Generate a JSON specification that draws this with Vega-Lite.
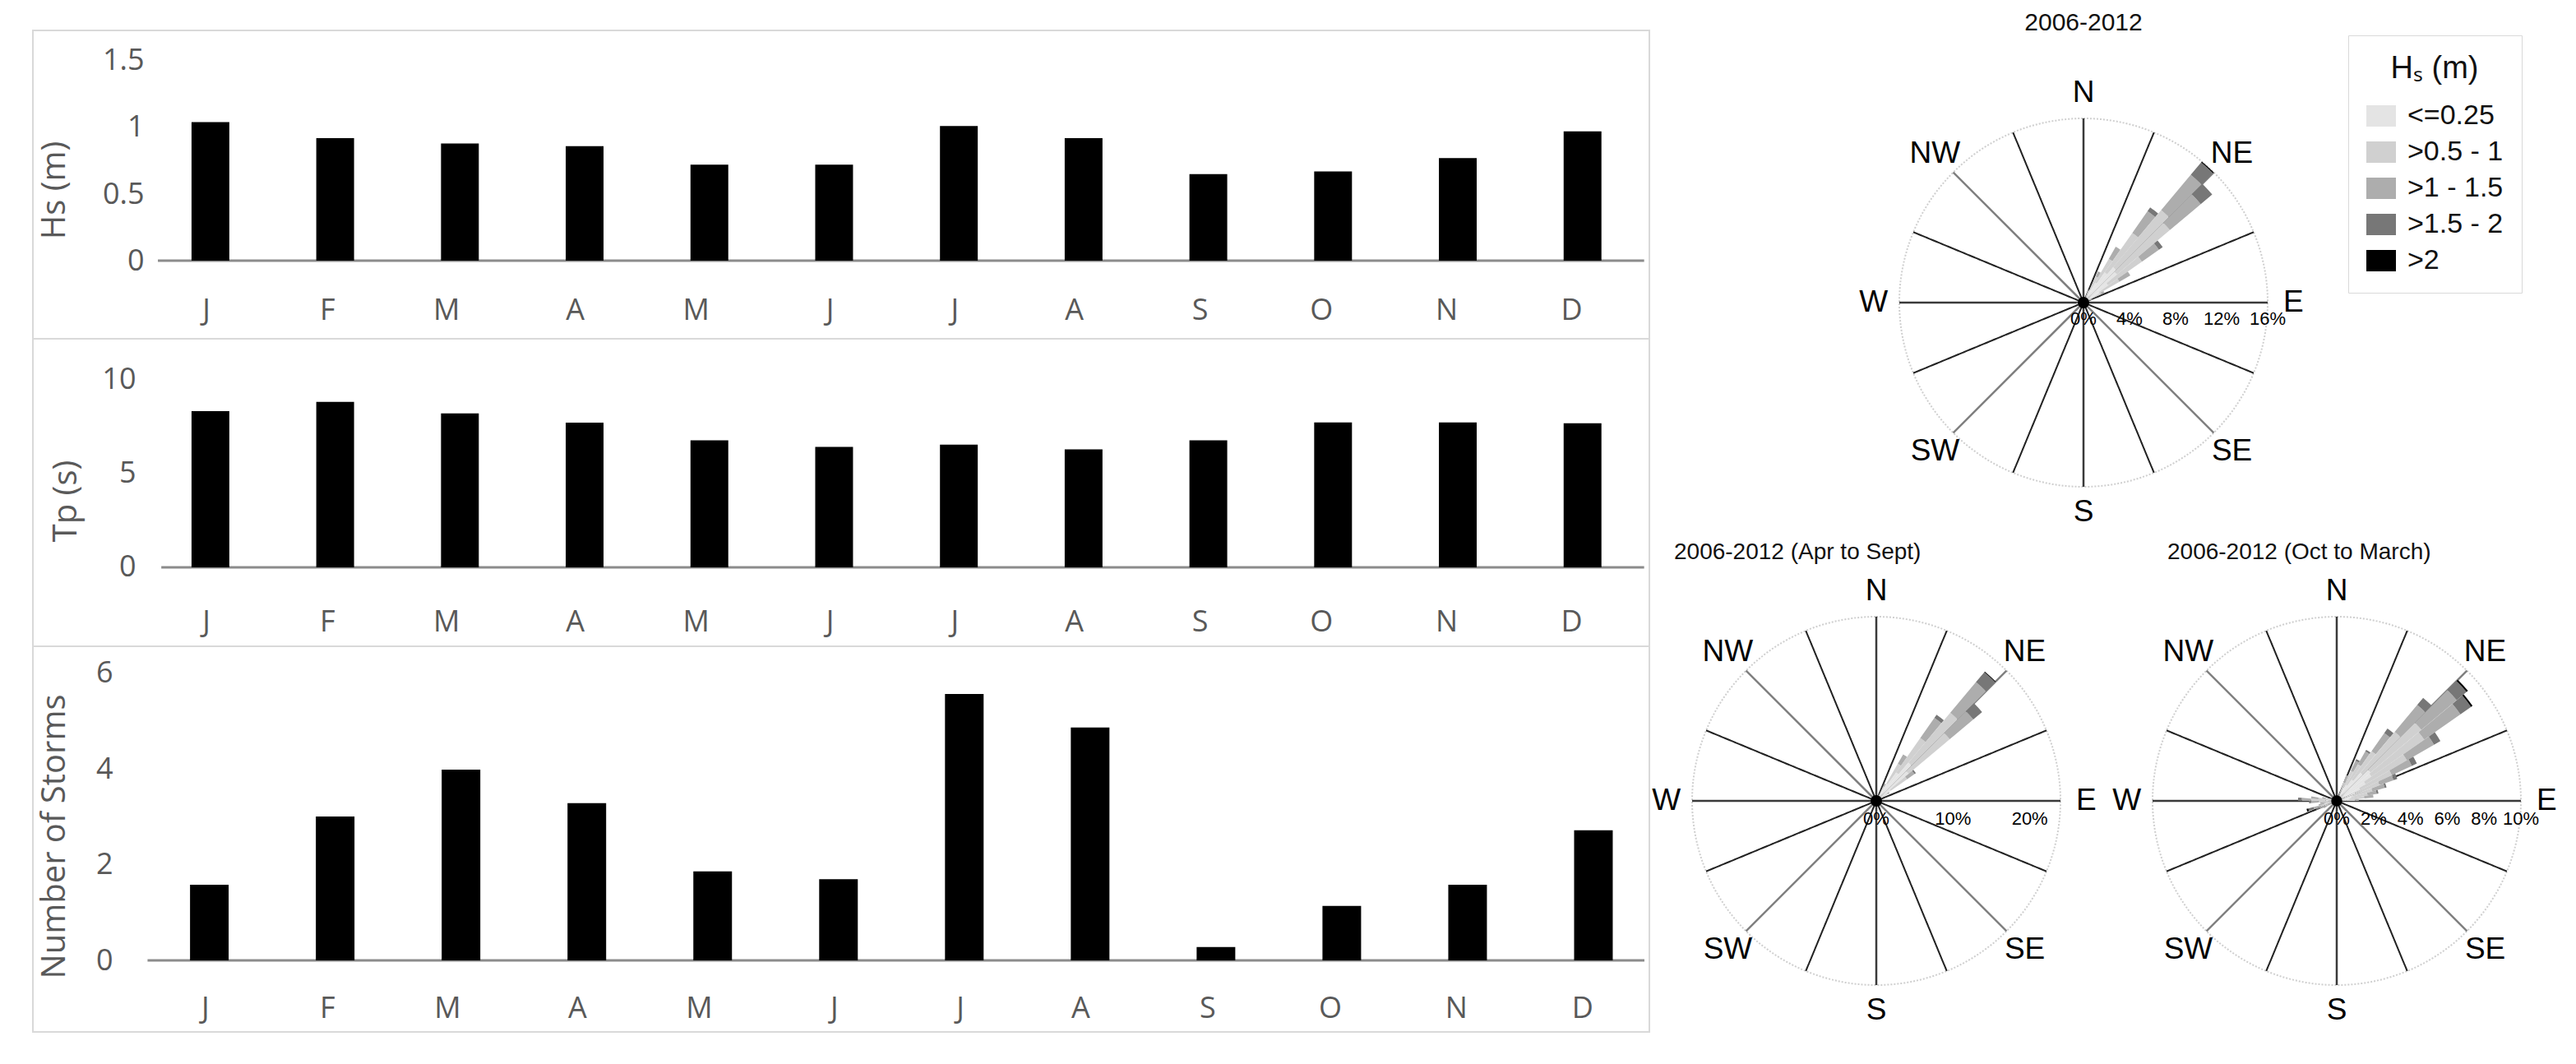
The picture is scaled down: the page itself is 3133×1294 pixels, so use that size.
{
  "$schema": "https://vega.github.io/schema/vega-lite/v6.json",
  "background": "white",
  "padding": {"left": 39, "top": 13, "right": 5, "bottom": 5},
  "bounds": "flush",
  "spacing": 1980,
  "config": {"view": {"stroke": null}, "axis": {"grid": false}, "font": "Liberation Sans"},
  "resolve": {"scale": {"color": "independent", "theta": "independent", "radius": "independent"}, "legend": {"color": "independent"}},
  "datasets": {
    "bars": [
      {"m": "Jan", "hs": 1.04, "tp": 8.33, "ns": 1.58},
      {"m": "Feb", "hs": 0.92, "tp": 8.82, "ns": 3.01},
      {"m": "Mar", "hs": 0.88, "tp": 8.21, "ns": 3.99},
      {"m": "Apr", "hs": 0.86, "tp": 7.72, "ns": 3.29},
      {"m": "May", "hs": 0.72, "tp": 6.77, "ns": 1.86},
      {"m": "Jun", "hs": 0.72, "tp": 6.42, "ns": 1.70},
      {"m": "Jul", "hs": 1.01, "tp": 6.54, "ns": 5.57},
      {"m": "Aug", "hs": 0.92, "tp": 6.29, "ns": 4.87},
      {"m": "Sep", "hs": 0.65, "tp": 6.77, "ns": 0.28},
      {"m": "Oct", "hs": 0.67, "tp": 7.73, "ns": 1.14},
      {"m": "Nov", "hs": 0.77, "tp": 7.73, "ns": 1.58},
      {"m": "Dec", "hs": 0.97, "tp": 7.68, "ns": 2.72}
    ],
    "one": [{}],
    "spk_c": [{"a": 0}, {"a": 90}, {"a": 180}, {"a": 270}],
    "spk_d": [{"a": 45}, {"a": 135}, {"a": 225}, {"a": 315}],
    "spk_i": [{"a": 22.5}, {"a": 67.5}, {"a": 112.5}, {"a": 157.5}, {"a": 202.5}, {"a": 247.5}, {"a": 292.5}, {"a": 337.5}],
    "dirs": [{"a": 0, "t": "N"}, {"a": 45, "t": "NE"}, {"a": 90, "t": "E"}, {"a": 135, "t": "SE"}, {"a": 180, "t": "S"}, {"a": 225, "t": "SW"}, {"a": 270, "t": "W"}, {"a": 315, "t": "NW"}],
    "pct1": [{"v": 0, "t": "0%"}, {"v": 4, "t": "4%"}, {"v": 8, "t": "8%"}, {"v": 12, "t": "12%"}, {"v": 16, "t": "16%"}],
    "pct2": [{"v": 0, "t": "0%"}, {"v": 10, "t": "10%"}, {"v": 20, "t": "20%"}],
    "pct3": [{"v": 0, "t": "0%"}, {"v": 2, "t": "2%"}, {"v": 4, "t": "4%"}, {"v": 6, "t": "6%"}, {"v": 8, "t": "8%"}, {"v": 10, "t": "10%"}],
    "r1": [
      {"d0": 20, "d1": 25, "c": "<=0.25", "p": 0.6}, {"d0": 20, "d1": 25, "c": ">0.5 - 1", "p": 0.5}, {"d0": 20, "d1": 25, "c": ">1 - 1.5", "p": 0.1},
      {"d0": 25, "d1": 30, "c": "<=0.25", "p": 1.2}, {"d0": 25, "d1": 30, "c": ">0.5 - 1", "p": 1.3}, {"d0": 25, "d1": 30, "c": ">1 - 1.5", "p": 0.5},
      {"d0": 30, "d1": 35, "c": "<=0.25", "p": 2.0}, {"d0": 30, "d1": 35, "c": ">0.5 - 1", "p": 2.4}, {"d0": 30, "d1": 35, "c": ">1 - 1.5", "p": 1.2},
      {"d0": 35, "d1": 40, "c": "<=0.25", "p": 3.2}, {"d0": 35, "d1": 40, "c": ">0.5 - 1", "p": 4.2}, {"d0": 35, "d1": 40, "c": ">1 - 1.5", "p": 2.3}, {"d0": 35, "d1": 40, "c": ">1.5 - 2", "p": 0.4},
      {"d0": 40, "d1": 45, "c": "<=0.25", "p": 4.0}, {"d0": 40, "d1": 45, "c": ">0.5 - 1", "p": 6.5}, {"d0": 40, "d1": 45, "c": ">1 - 1.5", "p": 4.0}, {"d0": 40, "d1": 45, "c": ">1.5 - 2", "p": 1.4}, {"d0": 40, "d1": 45, "c": ">2", "p": 0.1},
      {"d0": 45, "d1": 50, "c": "<=0.25", "p": 3.8}, {"d0": 45, "d1": 50, "c": ">0.5 - 1", "p": 6.0}, {"d0": 45, "d1": 50, "c": ">1 - 1.5", "p": 3.5}, {"d0": 45, "d1": 50, "c": ">1.5 - 2", "p": 1.3},
      {"d0": 50, "d1": 55, "c": "<=0.25", "p": 2.6}, {"d0": 50, "d1": 55, "c": ">0.5 - 1", "p": 3.6}, {"d0": 50, "d1": 55, "c": ">1 - 1.5", "p": 1.8}, {"d0": 50, "d1": 55, "c": ">1.5 - 2", "p": 0.4},
      {"d0": 55, "d1": 60, "c": "<=0.25", "p": 1.6}, {"d0": 55, "d1": 60, "c": ">0.5 - 1", "p": 2.0}, {"d0": 55, "d1": 60, "c": ">1 - 1.5", "p": 1.1},
      {"d0": 60, "d1": 65, "c": "<=0.25", "p": 0.8}, {"d0": 60, "d1": 65, "c": ">0.5 - 1", "p": 0.9}, {"d0": 60, "d1": 65, "c": ">1 - 1.5", "p": 0.3},
      {"d0": 65, "d1": 70, "c": "<=0.25", "p": 0.4}, {"d0": 65, "d1": 70, "c": ">0.5 - 1", "p": 0.4},
      {"d0": 250, "d1": 255, "c": "<=0.25", "p": 0.3}, {"d0": 250, "d1": 255, "c": ">0.5 - 1", "p": 0.2},
      {"d0": 265, "d1": 270, "c": "<=0.25", "p": 0.3}, {"d0": 265, "d1": 270, "c": ">0.5 - 1", "p": 0.3},
      {"d0": 270, "d1": 275, "c": "<=0.25", "p": 0.3}, {"d0": 270, "d1": 275, "c": ">0.5 - 1", "p": 0.2}
    ],
    "r2": [
      {"d0": 20, "d1": 25, "c": "<=0.25", "p": 0.4}, {"d0": 20, "d1": 25, "c": ">0.5 - 1", "p": 0.4},
      {"d0": 25, "d1": 30, "c": "<=0.25", "p": 1.0}, {"d0": 25, "d1": 30, "c": ">0.5 - 1", "p": 1.1}, {"d0": 25, "d1": 30, "c": ">1 - 1.5", "p": 0.4},
      {"d0": 30, "d1": 35, "c": "<=0.25", "p": 2.6}, {"d0": 30, "d1": 35, "c": ">0.5 - 1", "p": 3.0}, {"d0": 30, "d1": 35, "c": ">1 - 1.5", "p": 1.4},
      {"d0": 35, "d1": 40, "c": "<=0.25", "p": 4.5}, {"d0": 35, "d1": 40, "c": ">0.5 - 1", "p": 5.5}, {"d0": 35, "d1": 40, "c": ">1 - 1.5", "p": 3.2}, {"d0": 35, "d1": 40, "c": ">1.5 - 2", "p": 0.5},
      {"d0": 40, "d1": 45, "c": "<=0.25", "p": 6.5}, {"d0": 40, "d1": 45, "c": ">0.5 - 1", "p": 8.5}, {"d0": 40, "d1": 45, "c": ">1 - 1.5", "p": 5.2}, {"d0": 40, "d1": 45, "c": ">1.5 - 2", "p": 1.7}, {"d0": 40, "d1": 45, "c": ">2", "p": 0.1},
      {"d0": 45, "d1": 50, "c": "<=0.25", "p": 5.5}, {"d0": 45, "d1": 50, "c": ">0.5 - 1", "p": 7.0}, {"d0": 45, "d1": 50, "c": ">1 - 1.5", "p": 4.0}, {"d0": 45, "d1": 50, "c": ">1.5 - 2", "p": 1.5},
      {"d0": 50, "d1": 55, "c": "<=0.25", "p": 2.3}, {"d0": 50, "d1": 55, "c": ">0.5 - 1", "p": 2.6}, {"d0": 50, "d1": 55, "c": ">1 - 1.5", "p": 1.2}, {"d0": 50, "d1": 55, "c": ">1.5 - 2", "p": 0.2},
      {"d0": 55, "d1": 60, "c": "<=0.25", "p": 0.9}, {"d0": 55, "d1": 60, "c": ">0.5 - 1", "p": 0.8}, {"d0": 55, "d1": 60, "c": ">1 - 1.5", "p": 0.3},
      {"d0": 60, "d1": 65, "c": "<=0.25", "p": 0.4}, {"d0": 60, "d1": 65, "c": ">0.5 - 1", "p": 0.3}
    ],
    "r3": [
      {"d0": 20, "d1": 25, "c": "<=0.25", "p": 0.5}, {"d0": 20, "d1": 25, "c": ">0.5 - 1", "p": 0.6}, {"d0": 20, "d1": 25, "c": ">1 - 1.5", "p": 0.4},
      {"d0": 25, "d1": 30, "c": "<=0.25", "p": 0.8}, {"d0": 25, "d1": 30, "c": ">0.5 - 1", "p": 1.0}, {"d0": 25, "d1": 30, "c": ">1 - 1.5", "p": 0.6}, {"d0": 25, "d1": 30, "c": ">1.5 - 2", "p": 0.1},
      {"d0": 30, "d1": 35, "c": "<=0.25", "p": 1.0}, {"d0": 30, "d1": 35, "c": ">0.5 - 1", "p": 1.3}, {"d0": 30, "d1": 35, "c": ">1 - 1.5", "p": 0.8}, {"d0": 30, "d1": 35, "c": ">1.5 - 2", "p": 0.1},
      {"d0": 35, "d1": 40, "c": "<=0.25", "p": 1.4}, {"d0": 35, "d1": 40, "c": ">0.5 - 1", "p": 1.9}, {"d0": 35, "d1": 40, "c": ">1 - 1.5", "p": 1.2}, {"d0": 35, "d1": 40, "c": ">1.5 - 2", "p": 0.3},
      {"d0": 40, "d1": 45, "c": "<=0.25", "p": 2.0}, {"d0": 40, "d1": 45, "c": ">0.5 - 1", "p": 2.9}, {"d0": 40, "d1": 45, "c": ">1 - 1.5", "p": 1.9}, {"d0": 40, "d1": 45, "c": ">1.5 - 2", "p": 0.5},
      {"d0": 45, "d1": 50, "c": "<=0.25", "p": 2.4}, {"d0": 45, "d1": 50, "c": ">0.5 - 1", "p": 3.6}, {"d0": 45, "d1": 50, "c": ">1 - 1.5", "p": 2.5}, {"d0": 45, "d1": 50, "c": ">1.5 - 2", "p": 0.7}, {"d0": 45, "d1": 50, "c": ">2", "p": 0.1},
      {"d0": 50, "d1": 55, "c": "<=0.25", "p": 2.3}, {"d0": 50, "d1": 55, "c": ">0.5 - 1", "p": 3.5}, {"d0": 50, "d1": 55, "c": ">1 - 1.5", "p": 2.4}, {"d0": 50, "d1": 55, "c": ">1.5 - 2", "p": 0.7}, {"d0": 50, "d1": 55, "c": ">2", "p": 0.1},
      {"d0": 55, "d1": 60, "c": "<=0.25", "p": 1.8}, {"d0": 55, "d1": 60, "c": ">0.5 - 1", "p": 2.6}, {"d0": 55, "d1": 60, "c": ">1 - 1.5", "p": 1.7}, {"d0": 55, "d1": 60, "c": ">1.5 - 2", "p": 0.4},
      {"d0": 60, "d1": 65, "c": "<=0.25", "p": 1.4}, {"d0": 60, "d1": 65, "c": ">0.5 - 1", "p": 1.9}, {"d0": 60, "d1": 65, "c": ">1 - 1.5", "p": 1.2}, {"d0": 60, "d1": 65, "c": ">1.5 - 2", "p": 0.3},
      {"d0": 65, "d1": 70, "c": "<=0.25", "p": 1.1}, {"d0": 65, "d1": 70, "c": ">0.5 - 1", "p": 1.4}, {"d0": 65, "d1": 70, "c": ">1 - 1.5", "p": 0.8}, {"d0": 65, "d1": 70, "c": ">1.5 - 2", "p": 0.2},
      {"d0": 70, "d1": 75, "c": "<=0.25", "p": 0.9}, {"d0": 70, "d1": 75, "c": ">0.5 - 1", "p": 1.1}, {"d0": 70, "d1": 75, "c": ">1 - 1.5", "p": 0.7}, {"d0": 70, "d1": 75, "c": ">1.5 - 2", "p": 0.1},
      {"d0": 75, "d1": 80, "c": "<=0.25", "p": 0.8}, {"d0": 75, "d1": 80, "c": ">0.5 - 1", "p": 0.9}, {"d0": 75, "d1": 80, "c": ">1 - 1.5", "p": 0.5}, {"d0": 75, "d1": 80, "c": ">1.5 - 2", "p": 0.1},
      {"d0": 80, "d1": 85, "c": "<=0.25", "p": 0.7}, {"d0": 80, "d1": 85, "c": ">0.5 - 1", "p": 0.8}, {"d0": 80, "d1": 85, "c": ">1 - 1.5", "p": 0.5},
      {"d0": 85, "d1": 90, "c": "<=0.25", "p": 0.5}, {"d0": 85, "d1": 90, "c": ">0.5 - 1", "p": 0.5}, {"d0": 85, "d1": 90, "c": ">1 - 1.5", "p": 0.2},
      {"d0": 240, "d1": 245, "c": "<=0.25", "p": 0.3}, {"d0": 240, "d1": 245, "c": ">0.5 - 1", "p": 0.3}, {"d0": 240, "d1": 245, "c": ">1 - 1.5", "p": 0.2},
      {"d0": 245, "d1": 250, "c": "<=0.25", "p": 0.3}, {"d0": 245, "d1": 250, "c": ">0.5 - 1", "p": 0.4}, {"d0": 245, "d1": 250, "c": ">1 - 1.5", "p": 0.3}, {"d0": 245, "d1": 250, "c": ">1.5 - 2", "p": 0.2},
      {"d0": 250, "d1": 255, "c": "<=0.25", "p": 0.4}, {"d0": 250, "d1": 255, "c": ">0.5 - 1", "p": 0.5}, {"d0": 250, "d1": 255, "c": ">1 - 1.5", "p": 0.4}, {"d0": 250, "d1": 255, "c": ">1.5 - 2", "p": 0.3}, {"d0": 250, "d1": 255, "c": ">2", "p": 0.1},
      {"d0": 255, "d1": 260, "c": "<=0.25", "p": 0.3}, {"d0": 255, "d1": 260, "c": ">0.5 - 1", "p": 0.4}, {"d0": 255, "d1": 260, "c": ">1 - 1.5", "p": 0.3},
      {"d0": 260, "d1": 265, "c": "<=0.25", "p": 0.3}, {"d0": 260, "d1": 265, "c": ">0.5 - 1", "p": 0.3}, {"d0": 260, "d1": 265, "c": ">1 - 1.5", "p": 0.3},
      {"d0": 265, "d1": 270, "c": "<=0.25", "p": 0.4}, {"d0": 265, "d1": 270, "c": ">0.5 - 1", "p": 0.6}, {"d0": 265, "d1": 270, "c": ">1 - 1.5", "p": 0.4}, {"d0": 265, "d1": 270, "c": ">1.5 - 2", "p": 0.1},
      {"d0": 270, "d1": 275, "c": "<=0.25", "p": 0.6}, {"d0": 270, "d1": 275, "c": ">0.5 - 1", "p": 0.8}, {"d0": 270, "d1": 275, "c": ">1 - 1.5", "p": 0.5}, {"d0": 270, "d1": 275, "c": ">1.5 - 2", "p": 0.2},
      {"d0": 275, "d1": 280, "c": "<=0.25", "p": 0.4}, {"d0": 275, "d1": 280, "c": ">0.5 - 1", "p": 0.6}, {"d0": 275, "d1": 280, "c": ">1 - 1.5", "p": 0.4},
      {"d0": 280, "d1": 285, "c": "<=0.25", "p": 0.3}, {"d0": 280, "d1": 285, "c": ">0.5 - 1", "p": 0.3}, {"d0": 280, "d1": 285, "c": ">1 - 1.5", "p": 0.2},
      {"d0": 285, "d1": 290, "c": "<=0.25", "p": 0.2}, {"d0": 285, "d1": 290, "c": ">0.5 - 1", "p": 0.2}
    ]
  },
  "hconcat": [
    {
      "vconcat": [
        {
          "width": 1966, "height": 375,
          "view": {"stroke": "#d9d9d9", "strokeWidth": 2},
          "data": {"name": "bars"},
          "layer": [
            {"data": {"name": "one"}, "mark": {"type": "rule", "color": "#8c8c8c", "strokeWidth": 3},
             "encoding": {"y": {"datum": 0, "type": "quantitative"}, "x": {"datum": "Jan", "type": "nominal", "bandPosition": -0.89}, "x2": {"datum": "Dec", "bandPosition": 2.13}}},
            {"mark": {"type": "bar", "color": "#000000"},
             "encoding": {
               "x": {"field": "m", "type": "nominal", "sort": null, "scale": {"domain": ["Jan", "Feb", "Mar", "Apr", "May", "Jun", "Jul", "Aug", "Sep", "Oct", "Nov", "Dec"], "paddingInner": 0.697, "paddingOuter": 0.828, "align": 0.768},
                     "axis": {"title": null, "offset": -35, "domain": false, "ticks": false, "grid": false, "labelPadding": 0, "labelBaseline": "middle", "labelAngle": 0, "labelExpr": "substring(datum.label, 0, 1)", "labelFont": "Open Sans", "labelFontSize": 36, "labelColor": "#595959"}},
               "y": {"field": "hs", "type": "quantitative", "scale": {"domain": [-0.586, 1.728], "nice": false, "zero": false},
                     "axis": {"title": "Hs (m)", "values": [0, 0.5, 1, 1.5], "format": "~g", "offset": -135, "domain": false, "ticks": false, "grid": false, "labelPadding": 0, "labelFont": "Open Sans", "labelFontSize": 36, "labelColor": "#595959", "titleFont": "Open Sans", "titleFontSize": 40, "titleFontWeight": "normal", "titleColor": "#595959", "titleX": -109, "titleY": 194, "titleBaseline": "middle", "titleAngle": -90}},
               "y2": {"datum": 0}
             }}
          ]
        },
        {
          "width": 1966, "height": 374,
          "view": {"stroke": "#d9d9d9", "strokeWidth": 2},
          "data": {"name": "bars"},
          "layer": [
            {"data": {"name": "one"}, "mark": {"type": "rule", "color": "#8c8c8c", "strokeWidth": 3},
             "encoding": {"y": {"datum": 0, "type": "quantitative"}, "x": {"datum": "Jan", "type": "nominal", "bandPosition": -0.8}, "x2": {"datum": "Dec", "bandPosition": 2.13}}},
            {"mark": {"type": "bar", "color": "#000000"},
             "encoding": {
               "x": {"field": "m", "type": "nominal", "sort": null, "scale": {"domain": ["Jan", "Feb", "Mar", "Apr", "May", "Jun", "Jul", "Aug", "Sep", "Oct", "Nov", "Dec"], "paddingInner": 0.697, "paddingOuter": 0.828, "align": 0.768},
                     "axis": {"title": null, "offset": -30, "domain": false, "ticks": false, "grid": false, "labelPadding": 0, "labelBaseline": "middle", "labelAngle": 0, "labelExpr": "substring(datum.label, 0, 1)", "labelFont": "Open Sans", "labelFontSize": 36, "labelColor": "#595959"}},
               "y": {"field": "tp", "type": "quantitative", "scale": {"domain": [-4.21, 12.19], "nice": false, "zero": false},
                     "axis": {"title": "Tp (s)", "values": [0, 5, 10], "format": "d", "offset": -125, "domain": false, "ticks": false, "grid": false, "labelPadding": 0, "labelFont": "Open Sans", "labelFontSize": 36, "labelColor": "#595959", "titleFont": "Open Sans", "titleFontSize": 40, "titleFontWeight": "normal", "titleColor": "#595959", "titleX": -85, "titleY": 197, "titleBaseline": "middle", "titleAngle": -90}},
               "y2": {"datum": 0}
             }}
          ]
        },
        {
          "width": 1966, "height": 469,
          "view": {"stroke": "#d9d9d9", "strokeWidth": 2},
          "data": {"name": "bars"},
          "layer": [
            {"data": {"name": "one"}, "mark": {"type": "rule", "color": "#8c8c8c", "strokeWidth": 3},
             "encoding": {"y": {"datum": 0, "type": "quantitative"}, "x": {"datum": "Jan", "type": "nominal", "bandPosition": -1.1}, "x2": {"datum": "Dec", "bandPosition": 1.82}}},
            {"mark": {"type": "bar", "color": "#000000"},
             "encoding": {
               "x": {"field": "m", "type": "nominal", "sort": null, "scale": {"domain": ["Jan", "Feb", "Mar", "Apr", "May", "Jun", "Jul", "Aug", "Sep", "Oct", "Nov", "Dec"], "paddingInner": 0.693, "paddingOuter": 0.77, "align": 0.811},
                     "axis": {"title": null, "offset": -29, "domain": false, "ticks": false, "grid": false, "labelPadding": 0, "labelBaseline": "middle", "labelAngle": 0, "labelExpr": "substring(datum.label, 0, 1)", "labelFont": "Open Sans", "labelFontSize": 36, "labelColor": "#595959"}},
               "y": {"field": "ns", "type": "quantitative", "scale": {"domain": [-1.495, 6.567], "nice": false, "zero": false},
                     "axis": {"title": "Number of Storms", "values": [0, 2, 4, 6], "format": "d", "offset": -97, "domain": false, "ticks": false, "grid": false, "labelPadding": 0, "labelFont": "Open Sans", "labelFontSize": 36, "labelColor": "#595959", "titleFont": "Open Sans", "titleFontSize": 40, "titleFontWeight": "normal", "titleColor": "#595959", "titleX": -71, "titleY": 231, "titleBaseline": "middle", "titleAngle": -90}},
               "y2": {"datum": 0}
             }}
          ]
        }
      ],
      "spacing": 0,
      "bounds": "flush",
      "resolve": {"scale": {"x": "independent", "y": "independent"}}
    },
    {
      "vconcat": [
        {
          "width": 1028, "height": 662,
          "title": {"text": "2006-2012", "frame": "group", "anchor": "middle", "offset": -6, "font": "Liberation Sans, Arial, sans-serif", "fontSize": 30, "fontWeight": "normal", "color": "#111111"},
          "layer": [
            {"data": {"name": "one"}, "mark": {"type": "arc", "filled": false, "stroke": "#cfcfcf", "strokeWidth": 2, "strokeDash": [2, 2]},
             "encoding": {"theta": {"datum": 0, "type": "quantitative", "scale": {"type": "linear", "domain": [0, 360], "range": [0, 6.283185307]}}, "theta2": {"datum": 360}, "radius": {"datum": 16, "type": "quantitative", "scale": {"type": "linear", "domain": [0, 16], "range": [0, 224]}}, "radius2": {"datum": 0}}},
            {"data": {"name": "spk_i"}, "mark": {"type": "arc", "filled": false, "stroke": "#222222", "strokeWidth": 2, "strokeDash": [4, 3]},
             "encoding": {"theta": {"field": "a", "type": "quantitative", "scale": {"type": "linear", "domain": [0, 360], "range": [0, 6.283185307]}}, "theta2": {"field": "a"}, "radius": {"datum": 16, "type": "quantitative", "scale": {"type": "linear", "domain": [0, 16], "range": [0, 224]}}, "radius2": {"datum": 0}}},
            {"data": {"name": "spk_d"}, "mark": {"type": "arc", "filled": false, "stroke": "#808080", "strokeWidth": 2.5},
             "encoding": {"theta": {"field": "a", "type": "quantitative", "scale": {"type": "linear", "domain": [0, 360], "range": [0, 6.283185307]}}, "theta2": {"field": "a"}, "radius": {"datum": 16, "type": "quantitative", "scale": {"type": "linear", "domain": [0, 16], "range": [0, 224]}}, "radius2": {"datum": 0}}},
            {"data": {"name": "spk_c"}, "mark": {"type": "arc", "filled": false, "stroke": "#3a3a3a", "strokeWidth": 2.5},
             "encoding": {"theta": {"field": "a", "type": "quantitative", "scale": {"type": "linear", "domain": [0, 360], "range": [0, 6.283185307]}}, "theta2": {"field": "a"}, "radius": {"datum": 16, "type": "quantitative", "scale": {"type": "linear", "domain": [0, 16], "range": [0, 224]}}, "radius2": {"datum": 0}}},
            {"data": {"name": "r1"},
             "transform": [{"stack": "p", "groupby": ["d0"], "sort": [{"field": "c", "order": "ascending"}], "as": ["s0", "s1"]}],
             "mark": {"type": "arc"},
             "encoding": {
               "theta": {"field": "d0", "type": "quantitative", "stack": null, "scale": {"type": "linear", "domain": [0, 360], "range": [0, 6.283185307]}},
               "theta2": {"field": "d1"},
               "radius": {"field": "s1", "type": "quantitative", "stack": null, "scale": {"type": "linear", "domain": [0, 16], "range": [0, 224]}},
               "radius2": {"field": "s0"},
               "color": {"field": "c", "type": "nominal",
                         "scale": {"domain": ["<=0.25", ">0.5 - 1", ">1 - 1.5", ">1.5 - 2", ">2"], "range": ["#e4e4e4", "#d0d0d0", "#adadad", "#777777", "#000000"]},
                         "legend": {"orient": "none", "legendX": 836, "legendY": 6, "title": "Hₛ (m)", "titleFont": "Liberation Sans", "titleFontSize": 38, "titleFontWeight": "normal", "titleColor": "#111111", "titleAnchor": "middle", "titlePadding": 20,
                                    "labelFont": "Liberation Sans", "labelFontSize": 34, "labelColor": "#111111", "labelOffset": 14, "labelLimit": 400,
                                    "symbolType": "M-1,-0.72H1V0.72H-1Z", "symbolSize": 1296, "symbolStrokeWidth": 0, "symbolOpacity": 1, "rowPadding": 9,
                                    "padding": 22, "strokeColor": "#d9d9d9", "fillColor": "#ffffff"}}
             }},
            {"data": {"name": "one"}, "mark": {"type": "arc", "fill": "#000000"},
             "encoding": {"theta": {"datum": 0, "type": "quantitative", "scale": {"type": "linear", "domain": [0, 360], "range": [0, 6.283185307]}}, "theta2": {"datum": 360}, "radius": {"datum": 0.5, "type": "quantitative", "scale": {"type": "linear", "domain": [0, 16], "range": [0, 224]}}, "radius2": {"datum": 0}}},
            {"data": {"name": "dirs"}, "mark": {"type": "text", "font": "Liberation Sans, Arial, sans-serif", "fontSize": 37, "color": "#000000", "align": "center", "baseline": "middle"},
             "encoding": {"theta": {"field": "a", "type": "quantitative", "scale": {"type": "linear", "domain": [0, 360], "range": [0, 6.283185307]}}, "radius": {"datum": 18.24, "type": "quantitative", "scale": {"type": "linear", "domain": [0, 16], "range": [0, 224]}}, "text": {"field": "t"}}},
            {"data": {"name": "pct1"}, "mark": {"type": "text", "font": "Liberation Sans", "fontSize": 22, "color": "#000000", "align": "center", "baseline": "middle", "dy": 20},
             "encoding": {"theta": {"datum": 90, "type": "quantitative", "scale": {"type": "linear", "domain": [0, 360], "range": [0, 6.283185307]}}, "radius": {"field": "v", "type": "quantitative", "scale": {"type": "linear", "domain": [0, 16], "range": [0, 224]}}, "text": {"field": "t"}}}
          ]
        },
        {
          "hconcat": [
            {
              "width": 524, "height": 520,
              "title": {"text": "2006-2012 (Apr to Sept)", "frame": "group", "anchor": "start", "dx": 16, "offset": 14, "font": "Liberation Sans, Arial, sans-serif", "fontSize": 28, "fontWeight": "normal", "color": "#111111"},
              "layer": [
                {"data": {"name": "one"}, "mark": {"type": "arc", "filled": false, "stroke": "#cfcfcf", "strokeWidth": 2, "strokeDash": [2, 2]},
                 "encoding": {"theta": {"datum": 0, "type": "quantitative", "scale": {"type": "linear", "domain": [0, 360], "range": [0, 6.283185307]}}, "theta2": {"datum": 360}, "radius": {"datum": 24, "type": "quantitative", "scale": {"type": "linear", "domain": [0, 24], "range": [0, 224]}}, "radius2": {"datum": 0}}},
                {"data": {"name": "spk_i"}, "mark": {"type": "arc", "filled": false, "stroke": "#222222", "strokeWidth": 2, "strokeDash": [4, 3]},
                 "encoding": {"theta": {"field": "a", "type": "quantitative", "scale": {"type": "linear", "domain": [0, 360], "range": [0, 6.283185307]}}, "theta2": {"field": "a"}, "radius": {"datum": 24, "type": "quantitative", "scale": {"type": "linear", "domain": [0, 24], "range": [0, 224]}}, "radius2": {"datum": 0}}},
                {"data": {"name": "spk_d"}, "mark": {"type": "arc", "filled": false, "stroke": "#808080", "strokeWidth": 2.5},
                 "encoding": {"theta": {"field": "a", "type": "quantitative", "scale": {"type": "linear", "domain": [0, 360], "range": [0, 6.283185307]}}, "theta2": {"field": "a"}, "radius": {"datum": 24, "type": "quantitative", "scale": {"type": "linear", "domain": [0, 24], "range": [0, 224]}}, "radius2": {"datum": 0}}},
                {"data": {"name": "spk_c"}, "mark": {"type": "arc", "filled": false, "stroke": "#3a3a3a", "strokeWidth": 2.5},
                 "encoding": {"theta": {"field": "a", "type": "quantitative", "scale": {"type": "linear", "domain": [0, 360], "range": [0, 6.283185307]}}, "theta2": {"field": "a"}, "radius": {"datum": 24, "type": "quantitative", "scale": {"type": "linear", "domain": [0, 24], "range": [0, 224]}}, "radius2": {"datum": 0}}},
                {"data": {"name": "r2"},
                 "transform": [{"stack": "p", "groupby": ["d0"], "sort": [{"field": "c", "order": "ascending"}], "as": ["s0", "s1"]}],
                 "mark": {"type": "arc"},
                 "encoding": {
                   "theta": {"field": "d0", "type": "quantitative", "stack": null, "scale": {"type": "linear", "domain": [0, 360], "range": [0, 6.283185307]}},
                   "theta2": {"field": "d1"},
                   "radius": {"field": "s1", "type": "quantitative", "stack": null, "scale": {"type": "linear", "domain": [0, 24], "range": [0, 224]}},
                   "radius2": {"field": "s0"},
                   "color": {"field": "c", "type": "nominal", "scale": {"domain": ["<=0.25", ">0.5 - 1", ">1 - 1.5", ">1.5 - 2", ">2"], "range": ["#e4e4e4", "#d0d0d0", "#adadad", "#777777", "#000000"]}, "legend": null}
                 }},
                {"data": {"name": "one"}, "mark": {"type": "arc", "fill": "#000000"},
                 "encoding": {"theta": {"datum": 0, "type": "quantitative", "scale": {"type": "linear", "domain": [0, 360], "range": [0, 6.283185307]}}, "theta2": {"datum": 360}, "radius": {"datum": 0.75, "type": "quantitative", "scale": {"type": "linear", "domain": [0, 24], "range": [0, 224]}}, "radius2": {"datum": 0}}},
                {"data": {"name": "dirs"}, "mark": {"type": "text", "font": "Liberation Sans, Arial, sans-serif", "fontSize": 37, "color": "#000000", "align": "center", "baseline": "middle"},
                 "encoding": {"theta": {"field": "a", "type": "quantitative", "scale": {"type": "linear", "domain": [0, 360], "range": [0, 6.283185307]}}, "radius": {"datum": 27.36, "type": "quantitative", "scale": {"type": "linear", "domain": [0, 24], "range": [0, 224]}}, "text": {"field": "t"}}},
                {"data": {"name": "pct2"}, "mark": {"type": "text", "font": "Liberation Sans", "fontSize": 22, "color": "#000000", "align": "center", "baseline": "middle", "dy": 22},
                 "encoding": {"theta": {"datum": 90, "type": "quantitative", "scale": {"type": "linear", "domain": [0, 360], "range": [0, 6.283185307]}}, "radius": {"field": "v", "type": "quantitative", "scale": {"type": "linear", "domain": [0, 24], "range": [0, 224]}}, "text": {"field": "t"}}}
              ]
            },
            {
              "width": 568, "height": 520,
              "title": {"text": "2006-2012 (Oct to March)", "frame": "group", "anchor": "start", "dx": 78, "offset": 14, "font": "Liberation Sans, Arial, sans-serif", "fontSize": 28, "fontWeight": "normal", "color": "#111111"},
              "layer": [
                {"data": {"name": "one"}, "mark": {"type": "arc", "filled": false, "stroke": "#cfcfcf", "strokeWidth": 2, "strokeDash": [2, 2]},
                 "encoding": {"theta": {"datum": 0, "type": "quantitative", "scale": {"type": "linear", "domain": [0, 360], "range": [0, 6.283185307]}}, "theta2": {"datum": 360}, "radius": {"datum": 10, "type": "quantitative", "scale": {"type": "linear", "domain": [0, 10], "range": [0, 224]}}, "radius2": {"datum": 0}}},
                {"data": {"name": "spk_i"}, "mark": {"type": "arc", "filled": false, "stroke": "#222222", "strokeWidth": 2, "strokeDash": [4, 3]},
                 "encoding": {"theta": {"field": "a", "type": "quantitative", "scale": {"type": "linear", "domain": [0, 360], "range": [0, 6.283185307]}}, "theta2": {"field": "a"}, "radius": {"datum": 10, "type": "quantitative", "scale": {"type": "linear", "domain": [0, 10], "range": [0, 224]}}, "radius2": {"datum": 0}}},
                {"data": {"name": "spk_d"}, "mark": {"type": "arc", "filled": false, "stroke": "#808080", "strokeWidth": 2.5},
                 "encoding": {"theta": {"field": "a", "type": "quantitative", "scale": {"type": "linear", "domain": [0, 360], "range": [0, 6.283185307]}}, "theta2": {"field": "a"}, "radius": {"datum": 10, "type": "quantitative", "scale": {"type": "linear", "domain": [0, 10], "range": [0, 224]}}, "radius2": {"datum": 0}}},
                {"data": {"name": "spk_c"}, "mark": {"type": "arc", "filled": false, "stroke": "#3a3a3a", "strokeWidth": 2.5},
                 "encoding": {"theta": {"field": "a", "type": "quantitative", "scale": {"type": "linear", "domain": [0, 360], "range": [0, 6.283185307]}}, "theta2": {"field": "a"}, "radius": {"datum": 10, "type": "quantitative", "scale": {"type": "linear", "domain": [0, 10], "range": [0, 224]}}, "radius2": {"datum": 0}}},
                {"data": {"name": "r3"},
                 "transform": [{"stack": "p", "groupby": ["d0"], "sort": [{"field": "c", "order": "ascending"}], "as": ["s0", "s1"]}],
                 "mark": {"type": "arc"},
                 "encoding": {
                   "theta": {"field": "d0", "type": "quantitative", "stack": null, "scale": {"type": "linear", "domain": [0, 360], "range": [0, 6.283185307]}},
                   "theta2": {"field": "d1"},
                   "radius": {"field": "s1", "type": "quantitative", "stack": null, "scale": {"type": "linear", "domain": [0, 10], "range": [0, 224]}},
                   "radius2": {"field": "s0"},
                   "color": {"field": "c", "type": "nominal", "scale": {"domain": ["<=0.25", ">0.5 - 1", ">1 - 1.5", ">1.5 - 2", ">2"], "range": ["#e4e4e4", "#d0d0d0", "#adadad", "#777777", "#000000"]}, "legend": null}
                 }},
                {"data": {"name": "one"}, "mark": {"type": "arc", "fill": "#000000"},
                 "encoding": {"theta": {"datum": 0, "type": "quantitative", "scale": {"type": "linear", "domain": [0, 360], "range": [0, 6.283185307]}}, "theta2": {"datum": 360}, "radius": {"datum": 0.3, "type": "quantitative", "scale": {"type": "linear", "domain": [0, 10], "range": [0, 224]}}, "radius2": {"datum": 0}}},
                {"data": {"name": "dirs"}, "mark": {"type": "text", "font": "Liberation Sans, Arial, sans-serif", "fontSize": 37, "color": "#000000", "align": "center", "baseline": "middle"},
                 "encoding": {"theta": {"field": "a", "type": "quantitative", "scale": {"type": "linear", "domain": [0, 360], "range": [0, 6.283185307]}}, "radius": {"datum": 11.4, "type": "quantitative", "scale": {"type": "linear", "domain": [0, 10], "range": [0, 224]}}, "text": {"field": "t"}}},
                {"data": {"name": "pct3"}, "mark": {"type": "text", "font": "Liberation Sans", "fontSize": 22, "color": "#000000", "align": "center", "baseline": "middle", "dy": 22},
                 "encoding": {"theta": {"datum": 90, "type": "quantitative", "scale": {"type": "linear", "domain": [0, 360], "range": [0, 6.283185307]}}, "radius": {"field": "v", "type": "quantitative", "scale": {"type": "linear", "domain": [0, 10], "range": [0, 224]}}, "text": {"field": "t"}}}
              ]
            }
          ],
          "spacing": 14,
          "bounds": "flush",
          "resolve": {"scale": {"color": "independent", "theta": "independent", "radius": "independent"}, "legend": {"color": "independent"}}
        }
      ],
      "spacing": 15,
      "bounds": "flush",
      "resolve": {"scale": {"color": "independent", "theta": "independent", "radius": "independent"}, "legend": {"color": "independent"}}
    }
  ]
}
